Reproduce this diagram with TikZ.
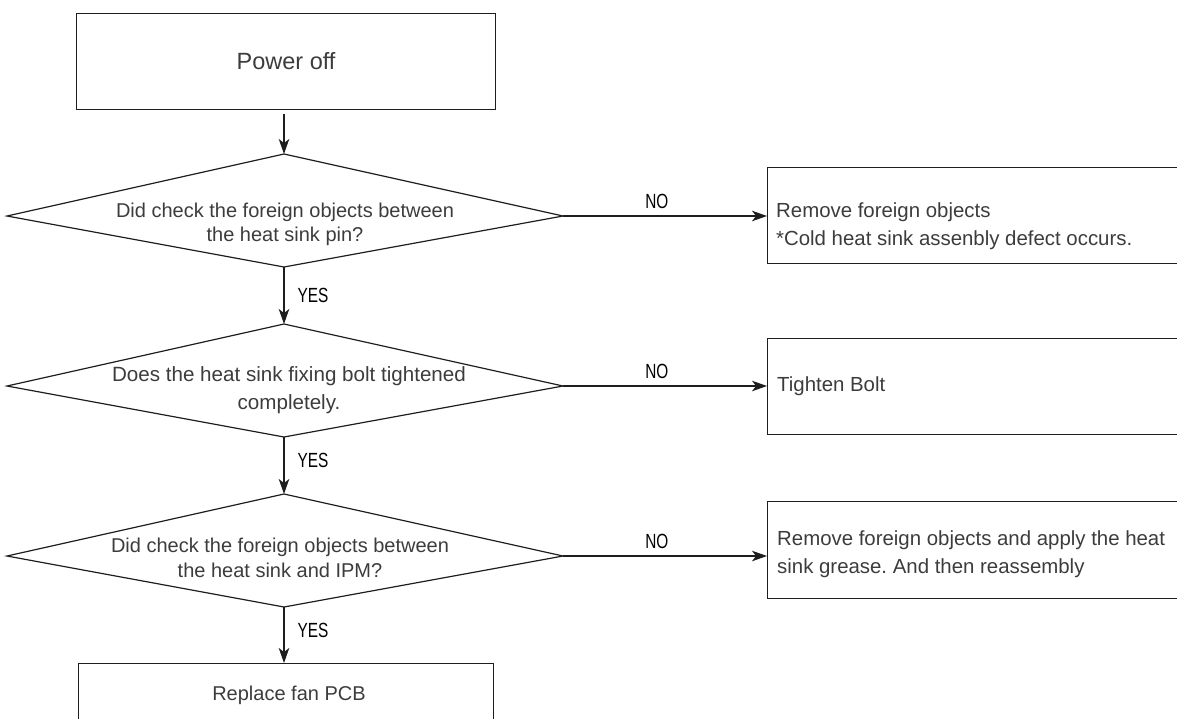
\documentclass[tikz,border=0pt]{standalone}
\usepackage{fontspec}
\setmainfont{Liberation Sans}
\newfontfamily\lblfont[FakeStretch=0.75]{Liberation Sans}
\usetikzlibrary{arrows.meta}
\definecolor{linec}{HTML}{1E1E1E}
\definecolor{txtc}{HTML}{3C3C3C}
\frenchspacing
\begin{document}
\begin{tikzpicture}[x=1pt,y=-1pt,
  outline/.style={draw=linec, line width=1.2pt},
  boxnode/.style={outline, rectangle, inner sep=0pt, anchor=north west},
  flow/.style={draw=linec, line width=1.2pt, -{Stealth[length=15pt,width=10.5pt,inset=4pt]}},
  qtext/.style={inner sep=0pt, anchor=north, align=center, text=txtc},
  btext/.style={inner sep=0pt, anchor=north west, align=left, text=txtc, font=\fontsize{20.4}{28.3}\selectfont},
  yn/.style={inner sep=0pt, text=black, font=\lblfont\fontsize{20.5}{24}\selectfont},
]
\useasboundingbox (0,0) rectangle (1177,718);
\clip (0,0) rectangle (1177,718);

% boxes
\node[boxnode, minimum width=419pt, minimum height=96pt, text=txtc,
      font=\fontsize{23.5}{28}\selectfont] (start) at (76,13) {Power off};
\node[boxnode, minimum width=440pt, minimum height=96pt] (b1) at (767,167) {};
\node[boxnode, minimum width=440pt, minimum height=96pt] (b2) at (767,338) {};
\node[boxnode, minimum width=440pt, minimum height=97pt] (b3) at (767,501) {};
\node[boxnode, minimum width=415pt, minimum height=80pt] (fin) at (78,663) {};

% box texts
\node[btext] (t1) at (776,202.2) {Remove foreign objects\\*Cold heat sink assenbly defect occurs.};
\node[btext, anchor=base west] (t2) at (777,391) {Tighten Bolt};
\node[btext] (t3) at (777,530.2) {Remove foreign objects and apply the heat\\sink grease. And then reassembly};
\node[inner sep=0pt, anchor=base, text=txtc, font=\fontsize{20}{24}\selectfont] (tf) at (289,700) {Replace fan PCB};

% diamonds
\coordinate (q1t) at (284,154); \coordinate (q1r) at (563,216);
\coordinate (q1b) at (284,267); \coordinate (q1l) at (7,216);
\coordinate (q2t) at (284,324); \coordinate (q2r) at (563,386);
\coordinate (q2b) at (284,437); \coordinate (q2l) at (7,386);
\coordinate (q3t) at (284,494); \coordinate (q3r) at (563,556);
\coordinate (q3b) at (284,607); \coordinate (q3l) at (7,556);
\draw[outline] (q1t) -- (q1r) -- (q1b) -- (q1l) -- cycle;
\draw[outline] (q2t) -- (q2r) -- (q2b) -- (q2l) -- cycle;
\draw[outline] (q3t) -- (q3r) -- (q3b) -- (q3l) -- cycle;

\node[qtext, font=\fontsize{20}{24.5}\selectfont] (qt1) at (285,202.4)
  {Did check the foreign objects between\\the heat sink pin?};
\node[qtext, font=\fontsize{20.6}{28}\selectfont] (qt2) at (289,366.2)
  {Does the heat sink fixing bolt tightened\\completely.};
\node[qtext, font=\fontsize{20}{25.5}\selectfont] (qt3) at (280,537.4)
  {Did check the foreign objects between\\the heat sink and IPM?};

% connectors
\draw[flow, shorten <=4pt] (start.south -| q1t) -- (q1t);
\draw[flow] (q1b) -- node[yn, pos=0.5, anchor=west, xshift=13pt] (y1) {YES} (q2t);
\draw[flow] (q2b) -- node[yn, pos=0.41, anchor=west, xshift=13pt] (y2) {YES} (q3t);
\draw[flow] (q3b) -- node[yn, pos=0.42, anchor=west, xshift=13pt] (y3) {YES} (fin.north -| q3b);

\draw[flow] (q1r) -- node[yn, pos=0.46, anchor=base, yshift=8pt] (n1) {NO} (q1r -| b1.west);
\draw[flow] (q2r) -- node[yn, pos=0.46, anchor=base, yshift=8pt] (n2) {NO} (q2r -| b2.west);
\draw[flow] (q3r) -- node[yn, pos=0.46, anchor=base, yshift=8pt] (n3) {NO} (q3r -| b3.west);
\end{tikzpicture}
\end{document}
